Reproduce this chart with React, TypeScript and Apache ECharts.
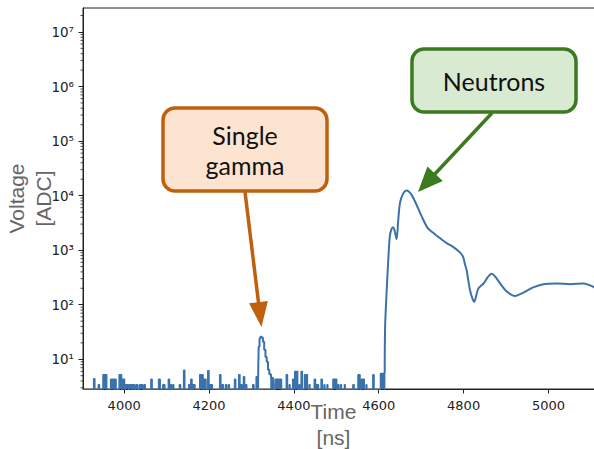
import React, { useEffect, useRef } from "react";
import * as echarts from "echarts";

// ---- axis ranges ----
const X_MIN = 3903;
const X_MAX = 5112;
const Y_MIN = 2.85;
const Y_MAX = 2.75e7;
const FLOOR = 1; // ADC value below the visible range (noise gaps)

// ---- tick labels ----
const xTicks = [4000, 4200, 4400, 4600, 4800, 5000];
const minorMantissas = [2, 3, 4, 5, 6, 7, 8, 9];
const decades = [1, 10, 100, 1000, 10000, 100000, 1000000, 10000000];

// ---- noise bursts before the neutron pulse: [start ns, end ns, ADC] ----
const noiseBursts: [number, number, number][] = [
  [3928, 3931, 4.4], [3939, 3942, 3.4], [3950, 3959, 5.2], [3968, 3975, 4.3],
  [3977, 3981, 4.3], [3988, 3994, 5.2], [3995, 4001, 4.3], [4003, 4010, 3.4],
  [4012, 4018, 3.4], [4020, 4025, 3.4], [4028, 4032, 3.4], [4036, 4044, 3.4],
  [4047, 4050, 3.4], [4063, 4066, 4.3], [4081, 4085, 4.3], [4091, 4096, 3.4],
  [4104, 4107, 4.3], [4109, 4112, 3.4], [4115, 4117, 3.4], [4130, 4133, 3.4],
  [4140, 4143, 6.3], [4152, 4155, 3.4], [4157, 4160, 4.3], [4162, 4167, 3.4],
  [4178, 4186, 5.2], [4188, 4193, 4.3], [4197, 4200, 6.2], [4201, 4208, 3.4],
  [4225, 4228, 5.2], [4231, 4234, 3.4], [4239, 4242, 3.4], [4246, 4248, 3.4],
  [4260, 4263, 4.3], [4270, 4273, 5.2], [4275, 4278, 3.4], [4281, 4284, 4.8],
  [4286, 4289, 3.4], [4303, 4306, 3.4], [4311, 4314, 4.8],
  [4346, 4352, 4.5], [4356, 4371, 4.3], [4382, 4385, 5.2], [4389, 4391, 3.4],
  [4397, 4400, 4.3], [4402, 4409, 6.0], [4412, 4414, 3.4], [4417, 4420, 6.0],
  [4425, 4432, 5.2], [4436, 4438, 3.4], [4448, 4451, 4.3], [4453, 4458, 3.4],
  [4464, 4467, 4.3], [4471, 4473, 3.4], [4478, 4480, 3.4], [4492, 4501, 4.3],
  [4504, 4506, 3.4], [4510, 4512, 3.4], [4519, 4521, 3.4], [4539, 4542, 3.4],
  [4551, 4556, 5.2], [4559, 4566, 4.3], [4570, 4572, 3.4], [4586, 4589, 5.2],
  [4604, 4614, 5.5],
];

// ---- single gamma pulse: [ns, ADC] ----
const gammaPulse: [number, number][] = [
  [4315, FLOOR], [4316, 7], [4317, 17], [4319, 24], [4321, 26], [4324, 25],
  [4327, 21], [4330, 15], [4333, 11], [4336, 9], [4339, 6.4], [4342, 5.3],
  [4346, 4.6], [4350, 3.6], [4352, FLOOR],
];

// ---- neutron pulse: [ns, ADC] ----
const neutronPulse: [number, number][] = [
  [4614, 5.5], [4615, 40], [4618, 140], [4620, 285], [4622, 576], [4626, 1780],
  [4630, 2430], [4634, 2640], [4638, 2180], [4642, 1580], [4646, 3600],
  [4650, 7300], [4658, 11100], [4666, 12400], [4677, 10400], [4689, 6800],
  [4701, 4200], [4716, 2500], [4731, 2000], [4744, 1670], [4760, 1350],
  [4776, 1140], [4792, 900], [4799, 746], [4803, 560], [4807, 437], [4811, 280],
  [4815, 186], [4820, 135], [4825, 113], [4830, 150], [4835, 200], [4847, 245],
  [4857, 320], [4866, 370], [4874, 330], [4886, 245], [4902, 174], [4921, 145],
  [4941, 166], [4964, 208], [4988, 238], [5020, 245], [5051, 238], [5082, 245],
  [5108, 208],
];

const SUP = ["⁰", "¹", "²", "³", "⁴", "⁵", "⁶", "⁷", "⁸", "⁹"];
const LINE_COLOR = "#3b72ab";
const AXIS_COLOR = "#222";

function buildNoise(): [number, number][] {
  const pts: [number, number][] = [[X_MIN, FLOOR]];
  noiseBursts.forEach(([s, e, v]) => {
    pts.push([s, v]);
    pts.push([e, FLOOR]);
  });
  return pts;
}

function arrow(x1: number, y1: number, x2: number, y2: number, color: string, headLen: number, headW: number) {
  const dx = x2 - x1;
  const dy = y2 - y1;
  const L = Math.sqrt(dx * dx + dy * dy);
  const ux = dx / L;
  const uy = dy / L;
  const bx = x2 - ux * headLen;
  const by = y2 - uy * headLen;
  const px = -uy;
  const py = ux;
  return [
    {
      type: "line",
      z: 100,
      shape: { x1, y1, x2: bx + ux * 2, y2: by + uy * 2 },
      style: { stroke: color, lineWidth: 3.5 },
    },
    {
      type: "polygon",
      z: 100,
      shape: {
        points: [
          [x2, y2],
          [bx + px * headW / 2, by + py * headW / 2],
          [bx - px * headW / 2, by - py * headW / 2],
        ],
      },
      style: { fill: color },
    },
  ];
}

export default function App() {
  const ref = useRef<HTMLDivElement>(null);
  useEffect(() => {
    if (!ref.current) return;
    const chart = echarts.init(ref.current, undefined, { renderer: "svg" });
    const minorTicks: number[][] = [];
    decades.forEach((d) =>
      minorMantissas.forEach((m) => {
        const v = m * d;
        if (v > Y_MIN && v < Y_MAX) minorTicks.push([X_MIN, v]);
      })
    );
    const orange = "#c0600e";
    const green = "#3b7a1f";
    chart.setOption({
      animation: false,
      backgroundColor: "#ffffff",
      grid: {
        left: 83,
        right: -2,
        top: 8,
        bottom: 60,
        containLabel: false,
        outerBoundsMode: "none",
        show: true,
        borderColor: AXIS_COLOR,
        borderWidth: 1,
        backgroundColor: "transparent",
      },
      xAxis: {
        type: "value",
        min: X_MIN,
        max: X_MAX,
        axisLine: { show: true, onZero: false, lineStyle: { color: AXIS_COLOR, width: 1 } },
        axisTick: { show: true, customValues: xTicks, length: 4.5, lineStyle: { color: AXIS_COLOR, width: 1 } },
        axisLabel: {
          customValues: xTicks,
          color: AXIS_COLOR,
          fontSize: 13,
          fontFamily: "DejaVu Sans",
          margin: 10,
          formatter: (v: number) => String(v),
        },
        splitLine: { show: false },
        name: "Time\n[ns]",
        nameLocation: "middle",
        nameGap: 9,
        nameMoveOverlap: false,
        nameTextStyle: {
          color: "#666",
          fontSize: 21,
          fontFamily: "Liberation Sans",
          lineHeight: 26,
          verticalAlign: "top",
          padding: [0, 12, 0, 0],
        },
      },
      yAxis: {
        type: "log",
        logBase: 10,
        min: Y_MIN,
        max: Y_MAX,
        axisLine: { show: true, lineStyle: { color: AXIS_COLOR, width: 1 } },
        axisTick: { show: true, length: 4.5, lineStyle: { color: AXIS_COLOR, width: 1 } },
        axisLabel: {
          color: AXIS_COLOR,
          fontSize: 13.5,
          fontFamily: "DejaVu Sans",
          margin: 9,
          showMinLabel: false,
          showMaxLabel: false,
          formatter: (v: number) => {
            const e = Math.round(Math.log10(v));
            return "10" + String(e).split("").map((c) => SUP[+c]).join("");
          },
        },
        splitLine: { show: false },
        minorTick: { show: false },
        name: "Voltage\n[ADC]",
        nameLocation: "middle",
        nameGap: 26,
        nameRotate: 90,
        nameMoveOverlap: false,
        nameTextStyle: {
          color: "#666",
          fontSize: 21,
          fontFamily: "Liberation Sans",
          lineHeight: 27,
        },
      },
      series: [
        {
          type: "line",
          data: buildNoise(),
          step: "end",
          showSymbol: false,
          lineStyle: { color: LINE_COLOR, width: 1.4 },
          itemStyle: { color: LINE_COLOR },
          areaStyle: { color: LINE_COLOR, opacity: 1, origin: "start" },
          clip: true,
        },
        {
          type: "line",
          data: gammaPulse,
          step: "end",
          showSymbol: false,
          lineStyle: { color: LINE_COLOR, width: 2 },
          itemStyle: { color: LINE_COLOR },
          clip: true,
        },
        {
          type: "line",
          data: neutronPulse,
          smooth: 0.3,
          showSymbol: false,
          lineStyle: { color: LINE_COLOR, width: 2 },
          itemStyle: { color: LINE_COLOR },
          clip: true,
        },
        {
          type: "custom",
          data: minorTicks,
          clip: false,
          silent: true,
          renderItem: (params: any, api: any) => {
            const y = api.coord([X_MIN, api.value(1)])[1];
            const x0 = params.coordSys.x;
            return {
              type: "line",
              shape: { x1: x0 - 2.5, y1: y, x2: x0, y2: y },
              style: { stroke: AXIS_COLOR, lineWidth: 0.8 },
            };
          },
        },
      ],
      graphic: [
        {
          type: "rect",
          z: 100,
          shape: { x: 163, y: 108, width: 164, height: 83, r: 12 },
          style: { fill: "#fce4d0", stroke: orange, lineWidth: 3.5 },
        },
        {
          type: "text",
          z: 101,
          x: 245,
          y: 150,
          style: {
            text: "Single\ngamma",
            fill: "#111",
            font: "25px Lato",
            lineHeight: 30,
            align: "center",
            verticalAlign: "middle",
          },
        },
        ...arrow(245, 192, 261.5, 327, orange, 25, 19),
        {
          type: "rect",
          z: 100,
          shape: { x: 412, y: 49, width: 164, height: 63, r: 12 },
          style: { fill: "#d9ead3", stroke: green, lineWidth: 3.5 },
        },
        {
          type: "text",
          z: 101,
          x: 494,
          y: 81,
          style: {
            text: "Neutrons",
            fill: "#111",
            font: "25px Lato",
            align: "center",
            verticalAlign: "middle",
          },
        },
        ...arrow(492, 113, 418, 192, green, 25, 21),
      ],
    });
    return () => chart.dispose();
  }, []);
  return (
    <div
      ref={ref}
      style={{ position: "absolute", left: 0, top: 0, width: 594, height: 449, background: "#fff" }}
    />
  );
}
